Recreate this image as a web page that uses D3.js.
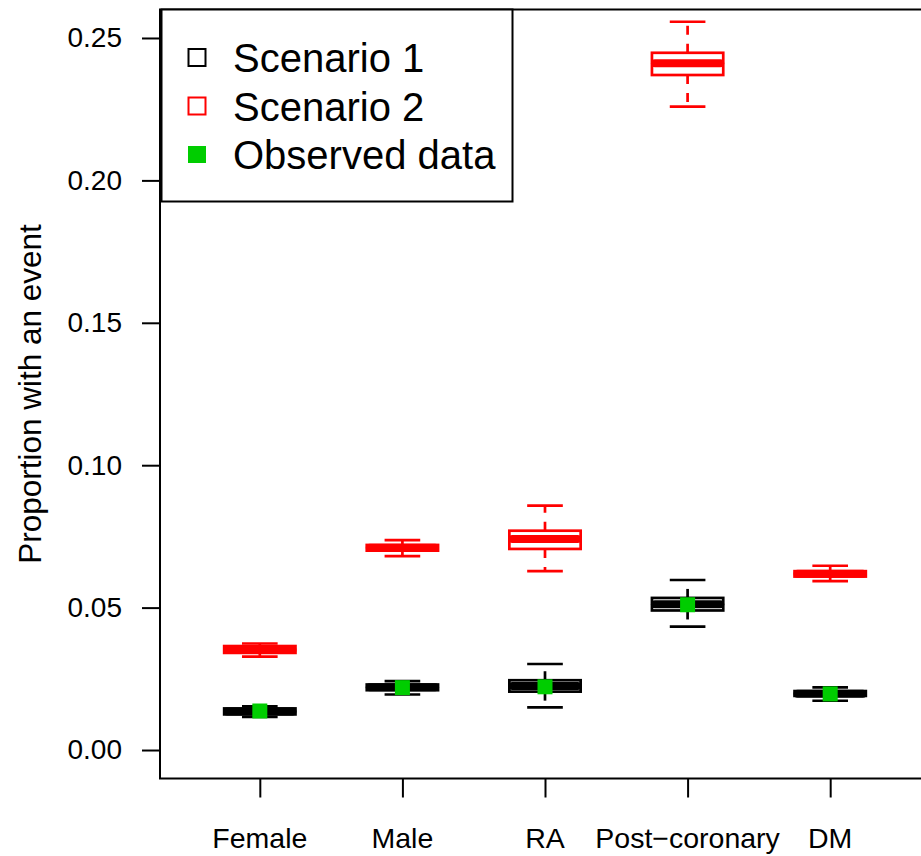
<!DOCTYPE html>
<html>
<head>
<meta charset="utf-8">
<script src="https://cdn.jsdelivr.net/npm/d3@7"></script>
<style>
  body { margin: 0; background: #fff; }
  svg text { font-family: "Liberation Sans", Arial, sans-serif; }
</style>
</head>
<body>
<script>
// groups along the x axis
let categories = ["Female", "Male", "RA", "Post\u2212coronary", "DM"];
// box stats per group: lower whisker, q1, median, q3, upper whisker
let scenario1 = [
    [0.0116, 0.0125, 0.0135, 0.0146, 0.0153],
    [0.0195, 0.0210, 0.0220, 0.0230, 0.0242],
    [0.0150, 0.0205, 0.0225, 0.0245, 0.0302],
    [0.0433, 0.0490, 0.0512, 0.0534, 0.0597],
    [0.0173, 0.0190, 0.0198, 0.0207, 0.0220]
];
let scenario2 = [
    [0.0328, 0.0341, 0.0351, 0.0365, 0.0374],
    [0.0681, 0.0700, 0.0710, 0.0720, 0.0737],
    [0.0628, 0.0706, 0.0741, 0.0770, 0.0858],
    [0.2259, 0.2370, 0.2411, 0.2448, 0.2557],
    [0.0593, 0.0609, 0.0619, 0.0628, 0.0647]
];
let observed = [0.0137, 0.0219, 0.0222, 0.0510, 0.0197];
let yTicks = [0, 0.05, 0.10, 0.15, 0.20, 0.25];
let legendLabels = ["Scenario 1", "Scenario 2", "Observed data"];

function run() {
    let W = 921, H = 856;
    let left = 160, right = 930, top = 9.5, bottom = 778.5;
    let svg = d3.select("body").append("svg")
        .attr("width", W)
        .attr("height", H);

    let x = d3.scaleLinear().domain([0.3, 5.7]).range([left, right]);
    let y = d3.scaleLinear().domain([-0.01, 0.26]).range([bottom, top]);
    let half = (x(1.25) - x(1));   // half box width
    let stap = half / 2;

    // y axis
    let yAxis = svg.append("g")
        .attr("transform", "translate(" + left + ",0)")
        .call(d3.axisLeft(y).tickValues(yTicks).tickSize(18).tickPadding(20)
            .tickFormat(d3.format(".2f")));
    yAxis.select(".domain").remove();
    yAxis.selectAll("line").attr("stroke", "#000").attr("stroke-width", 2);
    yAxis.selectAll("text").attr("font-size", 28).attr("fill", "#000")
        .attr("font-family", "Liberation Sans, Arial, sans-serif");

    // x axis
    let xAxis = svg.append("g")
        .attr("transform", "translate(0," + bottom + ")")
        .call(d3.axisBottom(x).tickValues([1, 2, 3, 4, 5]).tickSize(19).tickPadding(0)
            .tickFormat(""));
    xAxis.select(".domain").remove();
    xAxis.selectAll("line").attr("stroke", "#000").attr("stroke-width", 2);
    svg.selectAll(".xlab").data(categories).enter().append("text")
        .attr("class", "xlab")
        .attr("x", (d, i) => x(i + 1))
        .attr("y", 848)
        .attr("text-anchor", "middle")
        .attr("font-size", 28.5)
        .text(d => d);

    // y title
    svg.append("text")
        .attr("transform", "translate(41," + ((top + bottom) / 2) + ") rotate(-90)")
        .attr("text-anchor", "middle")
        .attr("font-size", 31.5)
        .text("Proportion with an event");

    function drawBoxes(data, col) {
        let g = svg.append("g");
        data.forEach((s, i) => {
            let cx = x(i + 1);
            // whiskers
            g.append("line").attr("x1", cx).attr("x2", cx)
                .attr("y1", y(s[3])).attr("y2", y(s[4]))
                .attr("stroke", col).attr("stroke-width", 2.7).attr("stroke-dasharray", "9,9");
            g.append("line").attr("x1", cx).attr("x2", cx)
                .attr("y1", y(s[1])).attr("y2", y(s[0]))
                .attr("stroke", col).attr("stroke-width", 2.7).attr("stroke-dasharray", "9,9");
            // staples
            [s[0], s[4]].forEach(v => {
                g.append("line").attr("x1", cx - stap).attr("x2", cx + stap)
                    .attr("y1", y(v)).attr("y2", y(v))
                    .attr("stroke", col).attr("stroke-width", 2.7);
            });
            // box
            g.append("rect")
                .attr("x", cx - half).attr("width", 2 * half)
                .attr("y", y(s[3])).attr("height", y(s[1]) - y(s[3]))
                .attr("fill", "#fff").attr("stroke", col).attr("stroke-width", 2.7);
            // median
            g.append("line").attr("x1", cx - half + 3).attr("x2", cx + half - 3)
                .attr("y1", y(s[2])).attr("y2", y(s[2]))
                .attr("stroke", col).attr("stroke-width", 8).attr("stroke-linecap", "round");
        });
    }
    drawBoxes(scenario1, "#000");
    drawBoxes(scenario2, "#ff0000");

    // observed points
    let sq = 15;
    svg.selectAll(".obs").data(observed).enter().append("rect")
        .attr("class", "obs")
        .attr("x", (d, i) => x(i + 1) - sq / 2)
        .attr("y", d => y(d) - sq / 2)
        .attr("width", sq).attr("height", sq)
        .attr("fill", "#00cd00");

    // plot frame
    svg.append("rect")
        .attr("x", left).attr("y", top)
        .attr("width", right - left).attr("height", bottom - top)
        .attr("fill", "none").attr("stroke", "#000").attr("stroke-width", 2);

    // legend
    let lg = svg.append("g");
    lg.append("rect")
        .attr("x", left + 1.5).attr("y", top)
        .attr("width", 351).attr("height", 192)
        .attr("fill", "#fff").attr("stroke", "#000").attr("stroke-width", 2);
    let cols = ["#000", "#ff0000", "#00cd00"];
    legendLabels.forEach((lab, i) => {
        let cy = 57.5 + i * 48.5;
        if (i < 2) {
            lg.append("rect").attr("x", 188.5).attr("y", cy - 8.5)
                .attr("width", 17).attr("height", 17)
                .attr("fill", "none").attr("stroke", cols[i]).attr("stroke-width", 2);
        } else {
            lg.append("rect").attr("x", 188).attr("y", cy - 8.5)
                .attr("width", 18).attr("height", 17)
                .attr("fill", cols[i]);
        }
        lg.append("text").attr("x", 233).attr("y", cy + 14.5)
            .attr("font-size", 40)
            .text(lab);
    });
}
window.onload = run;
</script>
</body>
</html>
